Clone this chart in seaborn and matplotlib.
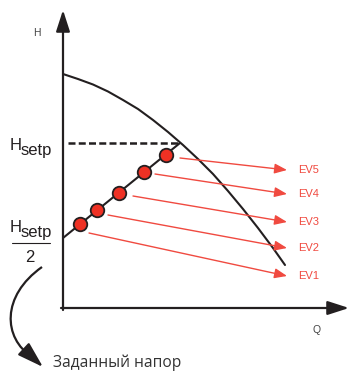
import numpy as np
import pandas as pd
import seaborn as sns
import matplotlib.pyplot as plt
from matplotlib import font_manager
from matplotlib.patches import PathPatch
from matplotlib.path import Path


## DATA (Q, H measured from the axes corner)
curve_q = [0, 15, 30, 45, 60, 75, 90, 105, 120, 135, 150, 165, 180, 195, 210, 222]
curve_h = [234, 229, 223.5, 216.5, 208, 199, 188, 176, 163, 149, 134, 117, 99, 80, 60, 43]

setp_q = [0, 117]
setp_h = [70, 165]
h_setp = 165

dot_q = [17, 34, 56, 81, 103]
dot_h = [84, 98, 115, 136, 153]

ev_labels = ['EV1', 'EV2', 'EV3', 'EV4', 'EV5']
ev_start_q = [26, 45, 70, 92, 117]
ev_start_h = [75, 93, 112, 134, 150]
ev_end_q = [224, 224, 224, 224, 224]
ev_end_h = [32, 60, 86, 114, 138]

curve = pd.DataFrame({'Q': curve_q, 'H': curve_h})
setp = pd.DataFrame({'Q': setp_q, 'H': setp_h})
dots = pd.DataFrame({'Q': dot_q, 'H': dot_h})


## STYLE
sns.set_theme(style='white')
names = {f.name for f in font_manager.fontManager.ttflist}
narrow = 'Liberation Sans Narrow' if 'Liberation Sans Narrow' in names else 'Liberation Sans'
plt.rcParams['font.family'] = ['Liberation Sans', 'DejaVu Sans']

black = '#231f20'
red = '#ee3124'
red_line = '#f04a40'


## FIGURE
fig = plt.figure(figsize=(3.51, 3.78), dpi=100)
ax = fig.add_axes([0, 0, 1, 1])
ax.set_xlim(-63, 288)
ax.set_ylim(-70, 308)
ax.axis('off')

# axes with arrows
head = '-|>,head_length=1.3,head_width=0.42'
ax.annotate('', xy=(0, 298), xytext=(0, -2),
            arrowprops=dict(arrowstyle=head, mutation_scale=10, color=black,
                            lw=1.6, shrinkA=0, shrinkB=0))
ax.annotate('', xy=(286, 0), xytext=(-2, 0),
            arrowprops=dict(arrowstyle=head, mutation_scale=10, color=black,
                            lw=1.6, shrinkA=0, shrinkB=0))
ax.text(-26, 275, 'H', fontsize=7.5, color='#444444', ha='center', va='center')
ax.text(254, -22, 'Q', fontsize=7.5, color='#444444', ha='center', va='center')

# pump curve and setpoint line
sns.lineplot(data=curve, x='Q', y='H', color=black, lw=1.5, ax=ax,
             sort=False, estimator=None)
sns.lineplot(data=setp, x='Q', y='H', color=black, lw=1.5, ax=ax,
             sort=False, estimator=None)
ax.plot([5, 115], [h_setp, h_setp], color=black, lw=1.8, dashes=(2.8, 1.3))

# EV arrows
for lab, q0, h0, q1, h1 in zip(ev_labels, ev_start_q, ev_start_h, ev_end_q, ev_end_h):
    ax.annotate('', xy=(q1, h1), xytext=(q0, h0),
                arrowprops=dict(arrowstyle='-|>,head_length=0.75,head_width=0.3',
                                mutation_scale=10, color=red_line, lw=1.0,
                                shrinkA=0, shrinkB=0))
    ax.text(q1 + 11, h1, lab, fontsize=8, color=red_line, ha='left',
            va='center', family=narrow)

sns.scatterplot(data=dots, x='Q', y='H', s=95, color=red, edgecolor=black,
                linewidth=1.3, ax=ax, zorder=5)

# setpoint labels
ax.text(-53, 163, 'H', fontsize=12, color=black, ha='left', va='center', family=narrow)
ax.text(-42, 158, 'setp', fontsize=12, color=black, ha='left', va='center', family=narrow)
ax.text(-53, 81, 'H', fontsize=12, color=black, ha='left', va='center', family=narrow)
ax.text(-42, 76, 'setp', fontsize=12, color=black, ha='left', va='center', family=narrow)
ax.plot([-51, -13], [65, 65], color=black, lw=0.8)
ax.text(-33, 51, '2', fontsize=12, color=black, ha='center', va='center', family=narrow)

# curved arrow to caption
verts = [(-21, 41), (-62, 12), (-60, -30), (-31, -49)]
codes = [Path.MOVETO, Path.CURVE4, Path.CURVE4, Path.CURVE4]
ax.add_patch(PathPatch(Path(verts, codes), fill=False, edgecolor=black, lw=1.6))
ax.annotate('', xy=(-20, -59), xytext=(-34, -46),
            arrowprops=dict(arrowstyle='-|>,head_length=1.6,head_width=0.5',
                            mutation_scale=10, color=black, lw=1.6,
                            shrinkA=0, shrinkB=0))
ax.text(-10, -55, 'Заданный напор', fontsize=11.2, color='#333333',
        ha='left', va='center', family=['Open Sans', 'DejaVu Sans'])

fig.savefig('out.png', dpi=100)
